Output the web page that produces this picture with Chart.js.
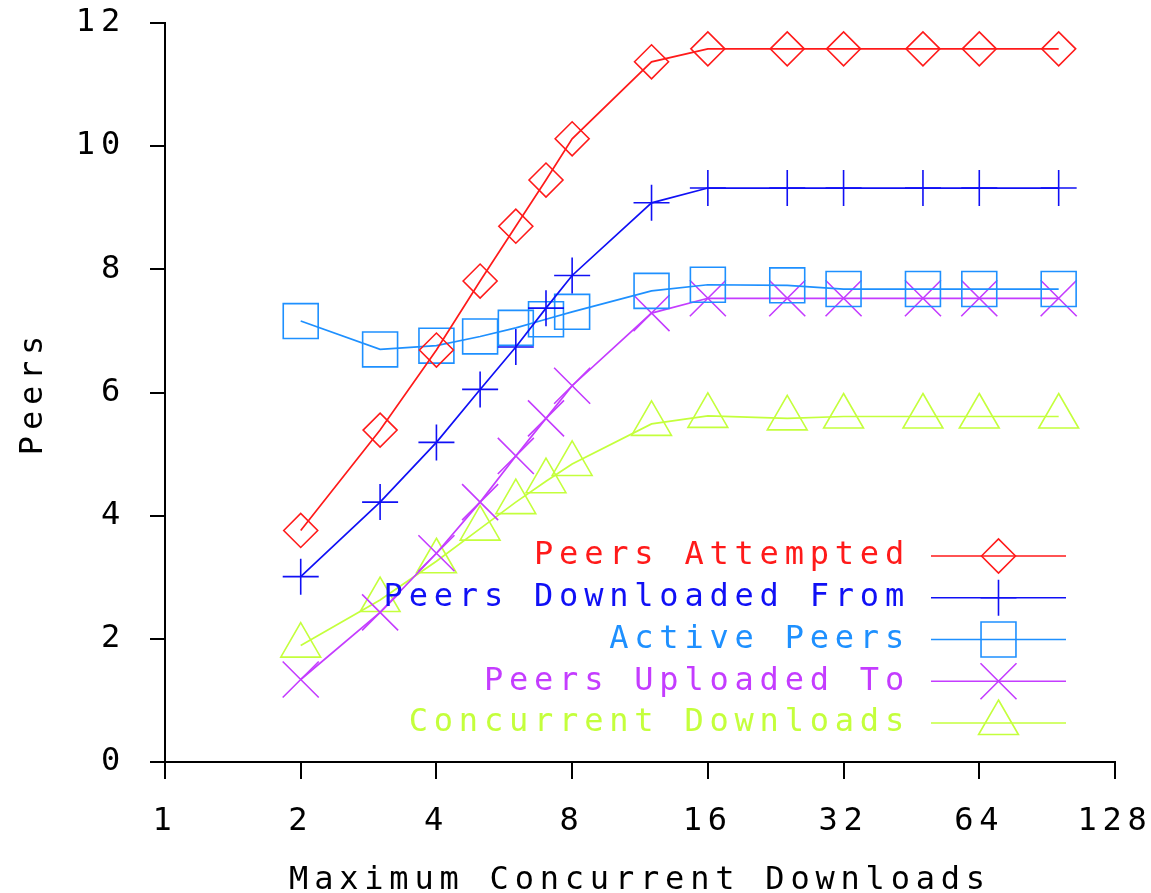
<!DOCTYPE html>
<html>
<head>
<meta charset="utf-8">
<title>Peers vs Maximum Concurrent Downloads</title>
<script src="https://cdn.jsdelivr.net/npm/chart.js@4.4.1/dist/chart.umd.min.js"></script>
<style>
  html, body { margin: 0; padding: 0; background: #fff; }
  canvas { display: block; }
</style>
</head>
<body>
<canvas id="chart" width="1151" height="893"></canvas>
<script>
// Measurements per download limit
const maxDownloads        = [2, 3, 4, 5, 6, 7, 8, 12, 16, 24, 32, 48, 64, 96];
const peersAttempted      = [3.76, 5.39, 6.69, 7.81, 8.70, 9.45, 10.12, 11.37, 11.58, 11.58, 11.58, 11.58, 11.58, 11.58];
const peersDownloadedFrom = [3.01, 4.22, 5.19, 6.05, 6.74, 7.37, 7.90, 9.08, 9.32, 9.32, 9.32, 9.32, 9.32, 9.32];
const activePeers         = [7.16, 6.70, 6.76, 6.91, 7.05, 7.19, 7.31, 7.65, 7.75, 7.74, 7.68, 7.68, 7.68, 7.68];
const peersUploadedTo     = [1.34, 2.43, 3.39, 4.22, 4.97, 5.58, 6.11, 7.29, 7.53, 7.53, 7.53, 7.53, 7.53, 7.53];
const concurrentDownloads = [1.89, 2.63, 3.26, 3.79, 4.22, 4.56, 4.84, 5.49, 5.62, 5.58, 5.61, 5.61, 5.61, 5.61];

// Axis ticks
const xTickValues = [1, 2, 4, 8, 16, 32, 64, 128];
const yTickValues = [0, 2, 4, 6, 8, 10, 12];

const FONT = '"DejaVu Sans Mono", "Liberation Mono", monospace';
const SPACING = '5.8px';

function series(label, values, color, pointStyle, radius) {
  return {
    label,
    data: maxDownloads.map((x, i) => ({ x, y: values[i] })),
    borderColor: color,
    backgroundColor: 'rgba(0,0,0,0)',
    borderWidth: 1.7,
    pointStyle,
    pointRadius: radius,
    pointBorderWidth: 1.6,
    pointBorderColor: color,
    pointBackgroundColor: 'rgba(0,0,0,0)',
    tension: 0,
    fill: false
  };
}

// Wide-tracked monospace text for all chart labels
const trackingPlugin = {
  id: 'tracking',
  beforeDraw(chart) { chart.ctx.letterSpacing = SPACING; },
  afterDraw(chart) { chart.ctx.letterSpacing = '0px'; }
};

// Key drawn inside the plot: label, then a line sample with its marker
const seriesKeyPlugin = {
  id: 'seriesKey',
  afterDraw(chart, args, opts) {
    const ctx = chart.ctx;
    ctx.save();
    ctx.font = `32px ${FONT}`;
    ctx.letterSpacing = SPACING;
    ctx.textAlign = 'right';
    ctx.textBaseline = 'middle';
    chart.data.datasets.forEach((ds, i) => {
      const y = opts.top + i * opts.rowGap;
      ctx.fillStyle = ds.borderColor;
      ctx.fillText(ds.label, opts.textRight, y);
      ctx.strokeStyle = ds.borderColor;
      ctx.lineWidth = ds.borderWidth;
      ctx.beginPath();
      ctx.moveTo(opts.lineStart, y);
      ctx.lineTo(opts.lineEnd, y);
      ctx.stroke();
      ctx.fillStyle = 'rgba(0,0,0,0)';
      ctx.lineWidth = ds.pointBorderWidth;
      Chart.helpers.drawPoint(ctx, {
        pointStyle: ds.pointStyle,
        radius: ds.pointRadius,
        borderWidth: ds.pointBorderWidth,
        rotation: 0
      }, (opts.lineStart + opts.lineEnd) / 2, y);
    });
    ctx.restore();
  }
};

const tickFont = { family: FONT, size: 32 };

new Chart(document.getElementById('chart'), {
  type: 'line',
  data: {
    datasets: [
      series('Peers Attempted', peersAttempted, '#ff1a1a', 'rectRot', 17),
      series('Peers Downloaded From', peersDownloadedFrom, '#1010f5', 'cross', 18),
      series('Active Peers', activePeers, '#1e90ff', 'rect', 24.7),
      series('Peers Uploaded To', peersUploadedTo, '#c43cff', 'crossRot', 25.5),
      series('Concurrent Downloads', concurrentDownloads, '#c4ff3c', 'triangle', 23)
    ]
  },
  plugins: [trackingPlugin, seriesKeyPlugin],
  options: {
    responsive: false,
    animation: false,
    layout: { autoPadding: false, padding: { top: 23, right: 36, left: 0, bottom: 0 } },
    plugins: {
      legend: { display: false },
      tooltip: { enabled: false },
      seriesKey: { top: 556, rowGap: 41.75, textRight: 910, lineStart: 931, lineEnd: 1066 }
    },
    scales: {
      x: {
        type: 'logarithmic',
        min: 1,
        max: 128,
        afterBuildTicks(scale) { scale.ticks = xTickValues.map(v => ({ value: v })); },
        afterFit(scale) {
          scale.height = 131;
          scale.paddingLeft = 0;
          scale.paddingRight = 0;
        },
        ticks: {
          autoSkip: false,
          maxRotation: 0,
          minRotation: 0,
          padding: 23,
          color: '#000',
          font: tickFont,
          callback: v => String(v)
        },
        grid: { drawOnChartArea: false, drawTicks: true, tickLength: 17, color: '#000', lineWidth: 2 },
        border: { display: true, color: '#000', width: 2 },
        title: {
          display: true,
          text: 'Maximum Concurrent Downloads',
          color: '#000',
          font: { family: FONT, size: 32, lineHeight: 0.8 },
          padding: 0
        }
      },
      y: {
        type: 'linear',
        min: 0,
        max: 12,
        afterBuildTicks(scale) { scale.ticks = yTickValues.map(v => ({ value: v })); },
        afterFit(scale) {
          scale.width = 165;
          scale.paddingTop = 0;
          scale.paddingBottom = 0;
        },
        ticks: { padding: 24, color: '#000', font: tickFont },
        grid: { drawOnChartArea: false, drawTicks: true, tickLength: 15, color: '#000', lineWidth: 2 },
        border: { display: true, color: '#000', width: 2 },
        title: {
          display: true,
          text: 'Peers',
          color: '#000',
          font: { family: FONT, size: 32, lineHeight: 1.2 },
          padding: { top: 14, bottom: 0 }
        }
      }
    }
  }
});
</script>
</body>
</html>
